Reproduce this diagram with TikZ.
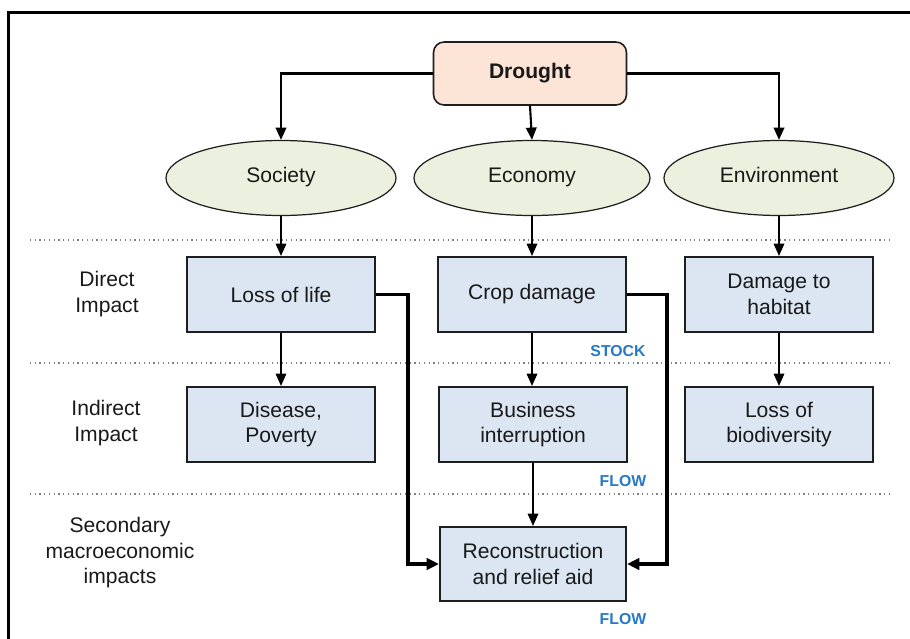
\documentclass[tikz,border=0pt]{standalone}
\usepackage{fontspec}
\setmainfont{Liberation Sans}
\usetikzlibrary{shapes.geometric,arrows.meta}

\definecolor{hazardfill}{RGB}{252,228,214}
\definecolor{sectorfill}{RGB}{235,241,222}
\definecolor{impactfill}{RGB}{220,230,242}
\definecolor{tagblue}{RGB}{38,120,200}
\definecolor{inkgray}{RGB}{30,30,30}

\tikzset{
    hazard/.style={draw=inkgray, line width=0.9pt, fill=hazardfill, rounded corners=6pt,
        minimum width=3.86cm, minimum height=1.26cm, font=\fontsize{12}{14.5}\selectfont\bfseries},
    sector/.style={ellipse, draw=inkgray, line width=0.7pt, fill=sectorfill,
        text height=0.72em, text depth=0.21em,
        minimum width=4.6cm, minimum height=1.5cm, font=\fontsize{12}{14.5}\selectfont},
    impact/.style={draw=inkgray, line width=1.2pt, fill=impactfill, align=center,
        minimum width=3.76cm, minimum height=1.5cm, font=\fontsize{12}{14.5}\selectfont},
    rowlabel/.style={align=center, font=\fontsize{12}{14.5}\selectfont},
    tag/.style={text=tagblue, font=\fontsize{9}{11}\selectfont\bfseries},
    sep/.style={gray, dotted, line width=0.7pt},
    link/.style={black, line width=1.2pt, -{Triangle[length=7pt,width=6pt]}},
    thinlink/.style={black, line width=0.9pt, -{Triangle[length=7pt,width=6pt]}},
    feed/.style={black, line width=1.9pt, -{Triangle[length=7pt,width=6.5pt]}}
}

\begin{document}
\begin{tikzpicture}[color=inkgray, text=black!90]
    \useasboundingbox (0,0) rectangle (18.2,-12.78);
    % Frame
    \draw[black, line width=1.4pt] (0.17,-12.9) -- (0.17,-0.25) -- (18.4,-0.25);

    % Separators
    \draw[sep] (0.6,-4.8) -- (17.8,-4.8);
    \draw[sep] (0.6,-7.26) -- (17.8,-7.26);
    \draw[sep] (0.6,-9.88) -- (17.8,-9.88);

    % Hazard and sectors
    \node[hazard] (drought) at (10.6,-1.47) {Drought};
    \node[sector] (society) at (5.62,-3.56) {Society};
    \node[sector, minimum width=4.72cm] (economy) at (10.64,-3.56) {Economy};
    \node[sector] (environment) at (15.58,-3.56) {Environment};

    % Direct impacts
    \node[impact] (lifeloss) at (5.62,-5.89) {Loss of life};
    \node[impact] (crop) at (10.64,-5.89) {Crop damage};
    \node[impact] (habitat) at (15.58,-5.89) {Damage to\\habitat};

    % Indirect impacts
    \node[impact] (disease) at (5.62,-8.49) {Disease,\\Poverty};
    \node[impact] (business) at (10.66,-8.49) {Business\\interruption};
    \node[impact] (biodiv) at (15.58,-8.49) {Loss of\\biodiversity};

    % Secondary
    \node[impact, minimum width=3.72cm, minimum height=1.48cm] (recon) at (10.66,-11.28) {Reconstruction\\and relief aid};

    % Row labels
    \node[rowlabel] (direct) at (2.14,-5.88) {Direct\\Impact};
    \node[rowlabel] (indirect) at (2.12,-8.46) {Indirect\\Impact};
    \node[rowlabel] (secondary) at (2.4,-11.06) {Secondary\\macroeconomic\\impacts};

    % Stock / flow tags
    \node[tag] (stock) at (12.36,-7.02) {STOCK};
    \node[tag] (flowa) at (12.46,-9.62) {FLOW};
    \node[tag] (flowb) at (12.46,-12.38) {FLOW};

    % Connectors
    \draw[link] (drought.west) -| (society.north);
    \draw[link] (drought.east) -| (environment.north);
    \draw[link] (drought.south) -- (economy.north);

    \draw[thinlink] (society.south) -- (lifeloss.north);
    \draw[thinlink] (economy.south) -- (crop.north);
    \draw[thinlink] (environment.south) -- (habitat.north);

    \draw[thinlink] (lifeloss.south) -- (disease.north);
    \draw[thinlink] (crop.south) -- (crop.south |- business.north);
    \draw[thinlink] (habitat.south) -- (biodiv.north);
    \draw[thinlink] (business.south) -- (business.south |- recon.north);

    \coordinate (lifebend) at (8.16,-5.89);
    \coordinate (cropbend) at (13.34,-5.89);
    \draw[feed] (lifeloss.east) -- (lifebend) |- (recon.west);
    \draw[feed] (crop.east) -- (cropbend) |- (recon.east);
\end{tikzpicture}
\end{document}
